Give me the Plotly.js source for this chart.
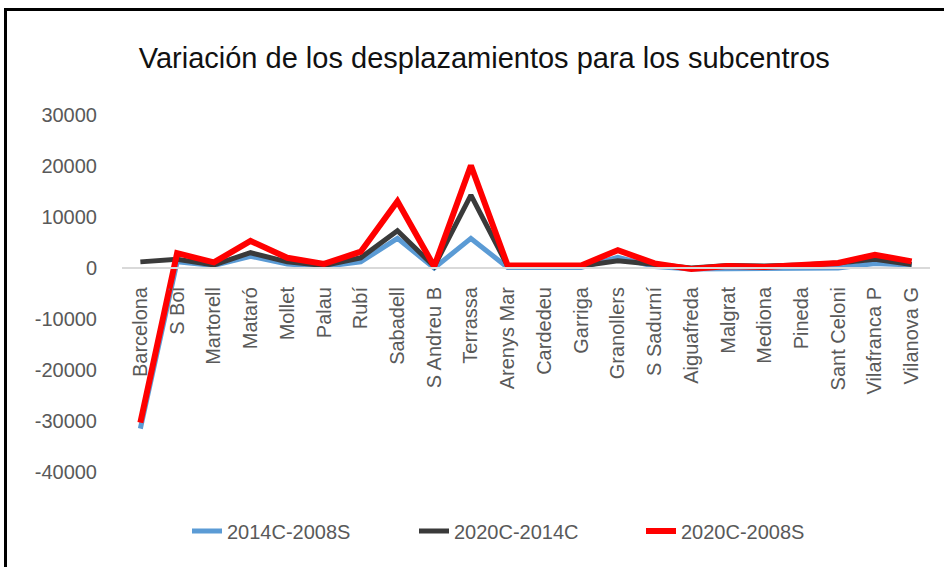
<!DOCTYPE html>
<html>
<head>
<meta charset="utf-8">
<script src="https://cdn.plot.ly/plotly-3.0.1.min.js"></script>
<style>
html,body{margin:0;padding:0;background:#fff;overflow:hidden;width:944px;height:567px;}
#chart{position:absolute;left:0;top:0;width:944px;height:567px;}
#frame{position:absolute;left:4px;top:8px;width:1000px;height:1000px;border:3px solid #000;pointer-events:none;}
</style>
</head>
<body>
<div id="chart"></div>
<div id="frame"></div>
<script>
const categories = ["Barcelona","S Boi","Martorell","Mataró","Mollet","Palau","Rubí","Sabadell","S Andreu B","Terrassa","Arenys Mar","Cardedeu","Garriga","Granollers","S Sadurní","Aiguafreda","Malgrat","Mediona","Pineda","Sant Celoni","Vilafranca P","Vilanova G"];
const s2014C_2008S = [-31500, 1200, 500, 2300, 800, 300, 1200, 5800, 0, 5800, 100, 100, 100, 2100, 300, -200, -100, -200, 0, 0, 900, 600];
const s2020C_2014C = [1200, 1700, 600, 3000, 1200, 500, 2000, 7300, 300, 14300, 400, 400, 400, 1400, 600, 0, 500, 400, 600, 1000, 1700, 700];
const s2020C_2008S = [-30300, 2900, 1100, 5300, 2000, 800, 3200, 13100, 300, 20100, 500, 500, 500, 3500, 900, -200, 400, 200, 600, 1000, 2600, 1300];
const seriesNames = ["2014C-2008S","2020C-2014C","2020C-2008S"];
const yTickVals = [-40000,-30000,-20000,-10000,0,10000,20000,30000];
const yTickText = ["-40000","-30000","-20000","-10000","0","10000","20000","30000"];
const titleText = "Variación de los desplazamientos para los subcentros";

const font = "Liberation Sans, Arial, sans-serif";
const traces = [
  {x: categories, y: s2014C_2008S, name: seriesNames[0], type: "scatter", mode: "lines",
   line: {color: "#5B9BD5", width: 5}},
  {x: categories, y: s2020C_2014C, name: seriesNames[1], type: "scatter", mode: "lines",
   line: {color: "#3A3A3A", width: 5}},
  {x: categories, y: s2020C_2008S, name: seriesNames[2], type: "scatter", mode: "lines",
   line: {color: "#FF0000", width: 6}}
];
const layout = {
  width: 944, height: 567,
  paper_bgcolor: "rgba(0,0,0,0)", plot_bgcolor: "rgba(0,0,0,0)",
  margin: {l: 122, r: 14, t: 115, b: 95},
  title: {text: titleText, font: {family: font, size: 29, color: "#111"},
          xref: "container", yref: "container", x: 0.513, y: 1 - 58/567,
          xanchor: "center", yanchor: "middle"},
  xaxis: {type: "category", anchor: "free", position: 40000/70000,
          range: [-0.5, categories.length - 0.5],
          showline: true, linecolor: "#D9D9D9", linewidth: 2, showgrid: false, zeroline: false,
          tickangle: -90, ticks: "", ticklabelstandoff: 10,
          tickfont: {family: font, size: 20, color: "#595959"}},
  yaxis: {range: [-40000, 30000], tickvals: yTickVals, ticktext: yTickText,
          showgrid: false, zeroline: false, showline: false, ticks: "",
          ticklabelstandoff: 24,
          tickfont: {family: font, size: 20, color: "#595959"}},
  showlegend: true,
  legend: {orientation: "h", xref: "container", yref: "container",
           x: 187/944, y: 1 - 531/567, xanchor: "left", yanchor: "middle",
           entrywidth: 182, entrywidthmode: "pixels",
           font: {family: font, size: 20, color: "#595959"}, bgcolor: "rgba(0,0,0,0)"}
};
Plotly.newPlot("chart", traces, layout, {displayModeBar: false, staticPlot: true});
</script>
</body>
</html>
